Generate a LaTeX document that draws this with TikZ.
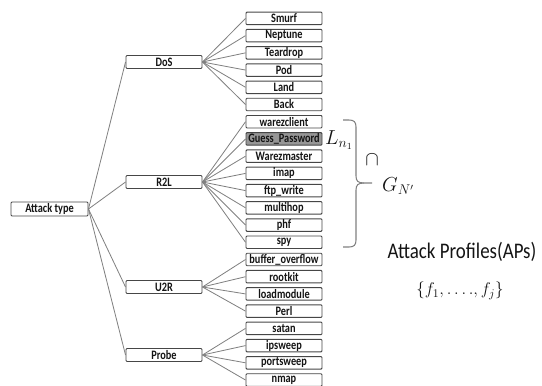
\documentclass[tikz,border=0pt]{standalone}
\usepackage{fontspec}
\newfontfamily\boxfont[FakeStretch=0.8]{Carlito}
\newfontfamily\labfont[FakeStretch=0.85]{Carlito}
\definecolor{edgegray}{RGB}{128,128,128}
\definecolor{boxline}{RGB}{70,70,70}
\definecolor{hifill}{RGB}{150,150,150}
\definecolor{txt}{RGB}{20,20,20}
\begin{document}
\begin{tikzpicture}[x=0.03cm,y=-0.03cm,
  box/.style={draw=boxline,line width=0.8pt,rounded corners=0.8pt,fill=white,inner sep=0pt,
    minimum width=2.28cm,minimum height=0.375cm,font=\boxfont\bfseries\fontsize{11}{12}\selectfont,text=txt},
  midbox/.style={box,minimum height=0.39cm},
  rootbox/.style={box,minimum width=2.31cm,minimum height=0.42cm},
  hibox/.style={box,fill=hifill},
  edge/.style={draw=edgegray,line width=0.7pt}]
\useasboundingbox (0,0) rectangle (542,385);
% root and categories
\node[rootbox] (root) at (49.5,209) {Attack type};
\node[midbox] (dos) at (164,62) {DoS};
\node[midbox] (r2l) at (164,182) {R2L};
\node[midbox] (u2r) at (164,287) {U2R};
\node[midbox] (probe) at (164,355) {Probe};
% leaves
\foreach \nm/\txt/\k in {smurf/Smurf/0,neptune/Neptune/1,teardrop/Teardrop/2,pod/Pod/3,land/Land/4,back/Back/5,
  warezclient/warezclient/6,warezmaster/Warezmaster/8,imap/imap/9,ftpwrite/ftp\_write/10,
  multihop/multihop/11,phf/phf/12,spy/spy/13,buffer/buffer\_overflow/14,rootkit/rootkit/15,
  loadmodule/loadmodule/16,perl/Perl/17,satan/satan/18,ipsweep/ipsweep/19,portsweep/portsweep/20,nmap/nmap/21}
  \node[box] (\nm) at (284,18.4+17.22*\k) {\txt};
\node[hibox] (guess) at (284,18.4+17.22*7) {Guess\_Password};
% edges
\foreach \c in {dos,r2l,u2r,probe} \draw[edge] (root.east) -- (\c.west);
\foreach \l in {smurf,neptune,teardrop,pod,land,back} \draw[edge] (dos.east) -- (\l.west);
\foreach \l in {warezclient,guess,warezmaster,imap,ftpwrite,multihop,phf,spy} \draw[edge] (r2l.east) -- (\l.west);
\foreach \l in {buffer,rootkit,loadmodule,perl} \draw[edge] (u2r.east) -- (\l.west);
\foreach \l in {satan,ipsweep,portsweep,nmap} \draw[edge] (probe.east) -- (\l.west);
% brace
\draw[edgegray,line width=0.9pt] (343,120) -- (349,120) .. controls (354,120) and (356,122) .. (356,127)
  -- (356,176) .. controls (356,181) and (358,183) .. (364,183) -- (372,183);
\draw[edgegray,line width=0.9pt] (364,183) .. controls (358,183) and (356,185) .. (356,190)
  -- (356,240) .. controls (356,245) and (354,247) .. (349,247) -- (343,247);
% labels
\node[inner sep=0pt,anchor=west,font=\fontsize{17}{18}\selectfont,text=txt] (ln) at (325,140) {$L_{n_1}$};
\node[inner sep=0pt,font=\fontsize{17}{18}\selectfont,text=txt] (cap) at (372,160) {$\cap$};
\node[inner sep=0pt,anchor=west,font=\fontsize{17}{18}\selectfont,text=txt] (g) at (382,186) {$G_{N'}$};
\node[inner sep=0pt,font=\labfont\fontsize{19}{20}\selectfont,text=txt] (ap) at (462,252) {Attack Profiles(APs)};
\node[inner sep=0pt,font=\fontsize{14}{16}\selectfont,text=txt] (fs) at (460,291) {$\{f_1,\ldots.,f_j\}$};
\end{tikzpicture}
\end{document}
